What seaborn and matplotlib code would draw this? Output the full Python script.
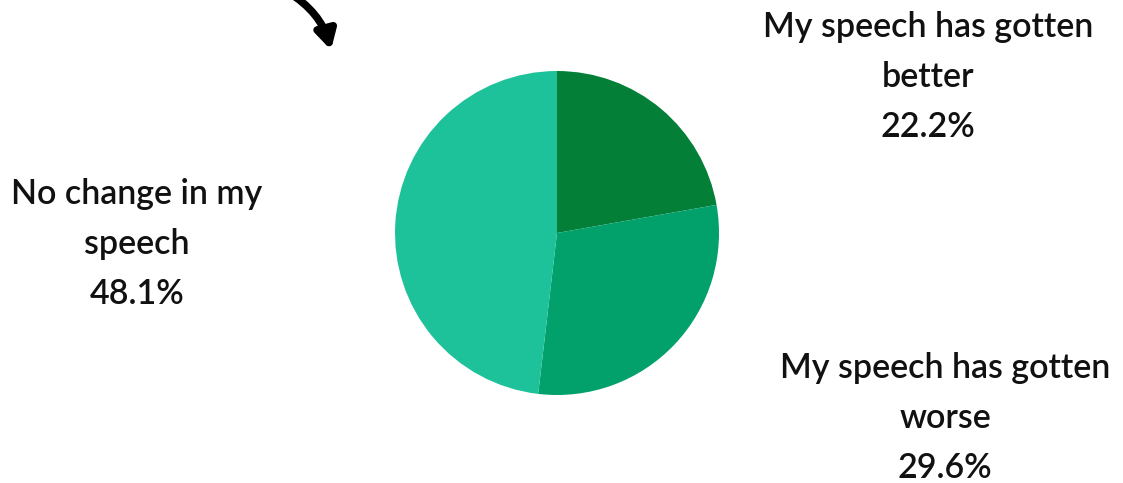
import matplotlib
matplotlib.use("Agg")
import matplotlib.pyplot as plt
import seaborn as sns

sns.set_theme(style="white")
plt.rcParams["font.family"] = ["Lato", "DejaVu Sans"]

categories = ["My speech has gotten\nbetter", "My speech has gotten\nworse", "No change in my\nspeech"]
shares = [22.2, 29.6, 48.1]
colors = ["#037F37", "#02A06A", "#1EC29A"]
label_pos = [(928, 77), (945, 418), (137, 244)]

W, H = 1123, 483
fig = plt.figure(figsize=(W / 100, H / 100), dpi=100)
ax = fig.add_axes([0, 0, 1, 1])

ax.pie(shares, colors=colors, startangle=90, counterclock=False,
       center=(557, H - 233), radius=162, normalize=True,
       wedgeprops=dict(linewidth=0))
ax.set_xlim(0, W)
ax.set_ylim(0, H)
ax.set_aspect("equal")
ax.axis("off")

for cat, val, (x, y) in zip(categories, shares, label_pos):
    ax.text(x, H - y, f"{cat}\n{val:.1f}%", ha="center", va="center",
            fontsize=24.5, fontweight="semibold", color="#111111", linespacing=1.68)

# hand-drawn style pointer at the top
ax.annotate("", xy=(331, H - 50), xytext=(288, H + 8),
            arrowprops=dict(arrowstyle="-|>,head_length=0.9,head_width=0.5",
                            color="black", lw=5.5, connectionstyle="arc3,rad=-0.2",
                            shrinkA=0, shrinkB=0),
            annotation_clip=False)

fig.savefig("out.png", dpi=100, facecolor="white")
